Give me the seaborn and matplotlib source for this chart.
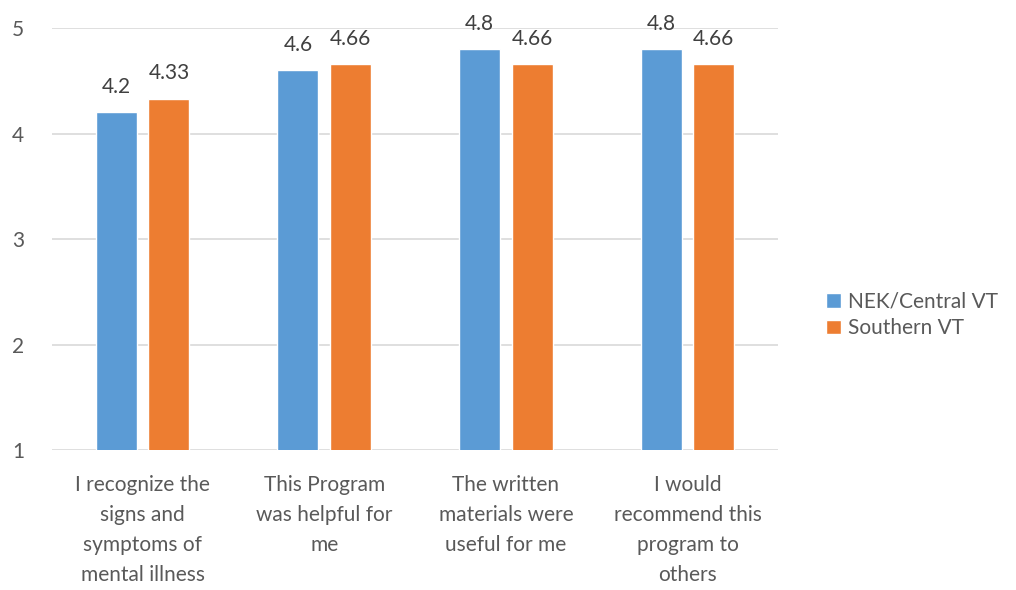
import matplotlib
matplotlib.use("Agg")
import matplotlib.pyplot as plt
import seaborn as sns
import pandas as pd

categories = [
    "I recognize the\nsigns and\nsymptoms of\nmental illness",
    "This Program\nwas helpful for\nme",
    "The written\nmaterials were\nuseful for me",
    "I would\nrecommend this\nprogram to\nothers",
]
series_names = ["NEK/Central VT", "Southern VT"]
nek_values = [4.2, 4.6, 4.8, 4.8]
southern_values = [4.33, 4.66, 4.66, 4.66]
value_labels_nek = ["4.2", "4.6", "4.8", "4.8"]
value_labels_southern = ["4.33", "4.66", "4.66", "4.66"]
y_ticks = [1, 2, 3, 4, 5]

df = pd.DataFrame({
    "category": categories * 2,
    "series": [series_names[0]] * 4 + [series_names[1]] * 4,
    "value": nek_values + southern_values,
})

sns.set_theme(style="white")
plt.rcParams["font.family"] = ["Lato", "DejaVu Sans"]
text_color = "#595959"
fs = 15

fig = plt.figure(figsize=(10.16, 5.9), dpi=100)
ax = fig.add_axes([0.051, 0.237, 0.715, 0.7155])

palette = {series_names[0]: "#5B9BD5", series_names[1]: "#ED7D31"}
sns.barplot(data=df, x="category", y="value", hue="series", order=categories,
            hue_order=series_names, palette=palette, width=0.58, gap=0.22,
            saturation=1, ax=ax, zorder=3)

ax.set_ylim(1, 5)
ax.set_yticks(y_ticks)
ax.set_yticklabels([str(t) for t in y_ticks])
ax.set_xlim(-0.5, 3.5)
ax.grid(axis="y", color="#D9D9D9", linewidth=1.2, zorder=0)
ax.set_axisbelow(True)
for s in ax.spines.values():
    s.set_visible(False)
ax.set_xlabel("")
ax.set_ylabel("")
ax.tick_params(axis="both", length=0, colors=text_color, labelsize=fs)
ax.tick_params(axis="x", pad=18)
ax.tick_params(axis="y", pad=20)
for lbl in ax.get_xticklabels():
    lbl.set_linespacing(1.62)
    lbl.set_color(text_color)
for lbl in ax.get_yticklabels():
    lbl.set_color(text_color)

for container, labels in zip(ax.containers, [value_labels_nek, value_labels_southern]):
    ax.bar_label(container, labels=labels, padding=11, fontsize=fs,
                 color="#404040", clip_on=False)

leg = ax.legend(loc="center left", bbox_to_anchor=(1.04, 0.32), frameon=False,
                fontsize=fs, handlelength=0.72, handleheight=0.72,
                handletextpad=0.35, labelspacing=0.3)
for t in leg.get_texts():
    t.set_color(text_color)

fig.savefig("out.png", dpi=100, facecolor="white")
